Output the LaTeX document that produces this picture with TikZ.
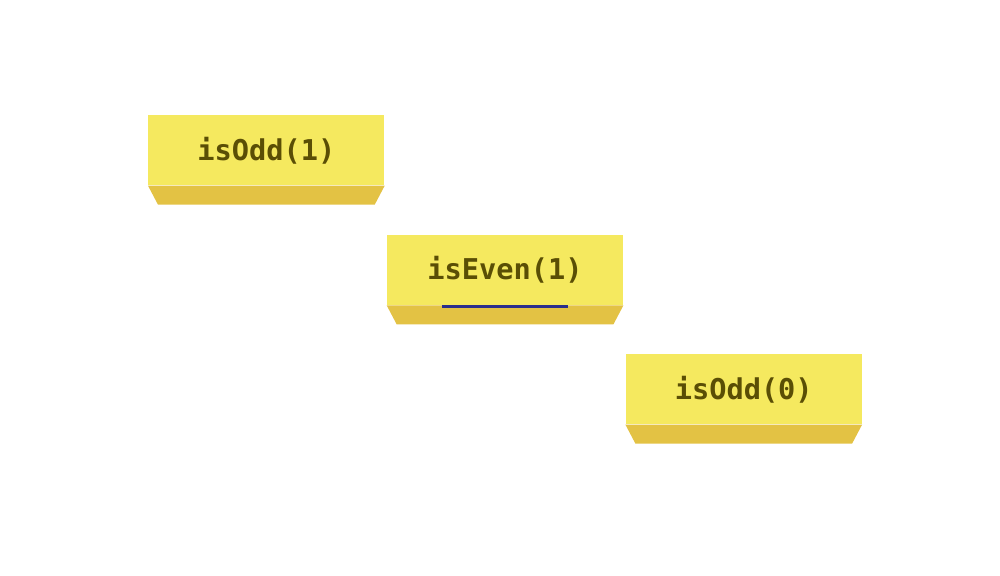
\documentclass[tikz,border=0pt]{standalone}
\usepackage{fontspec}
\setmonofont{DejaVu Sans Mono}
\usetikzlibrary{calc,positioning}
\definecolor{blockTop}{HTML}{F5E95F}
\definecolor{blockSide}{HTML}{E3C244}
\definecolor{blockInk}{HTML}{5A4E05}
\definecolor{scribbleBlue}{HTML}{2A2E8C}
\tikzset{
  call block/.style={
    fill=blockTop,
    minimum width=4.72cm,
    minimum height=1.4cm,
    inner sep=0pt,
    font=\ttfamily\bfseries\fontsize{16.3}{19}\selectfont,
    text=blockInk
  },
  block side/.style={
    fill=blockSide
  }
}
\newcommand{\blockside}[1]{%
  \fill[block side] (#1.south west) -- ++(0.2,-0.38) -- ($(#1.south east)+(-0.2,-0.38)$) -- (#1.south east) -- cycle;
}
\begin{document}
\begin{tikzpicture}
  \useasboundingbox (0,0) rectangle (20,-11.52);

  \node[call block,anchor=north west] (odd-one) at (2.96,-2.3) {isOdd(1)};
  \node[call block,below right=0.98cm and 0.04cm of odd-one] (even-one) {isEven(1)};
  \node[call block,below right=0.97cm and 0.04cm of even-one] (odd-zero) {isOdd(0)};

  \blockside{odd-one}
  \blockside{even-one}
  \blockside{odd-zero}

  % small scribble under isEven(1)
  \draw[scribbleBlue,line width=1.4pt] ($(even-one.south west)+(1.1,-0.02)$) -- ($(even-one.south west)+(3.62,-0.02)$);
\end{tikzpicture}
\end{document}
